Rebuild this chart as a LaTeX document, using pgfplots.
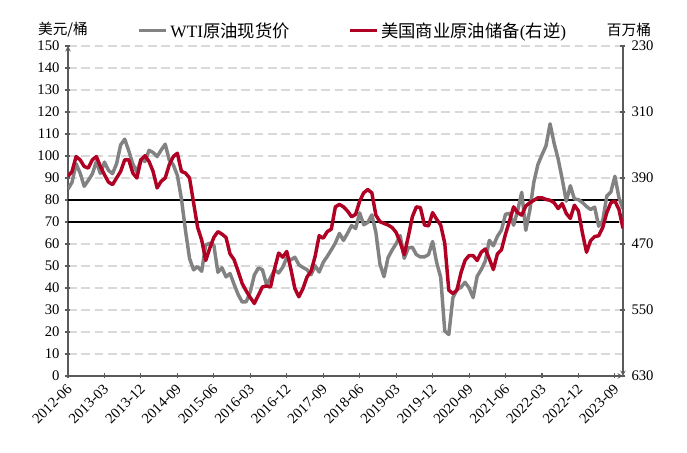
\documentclass[border=0pt]{standalone}
\usepackage{pgfplots}
\pgfplotsset{compat=1.18}
\usepackage{pgfplotstable}
\usepackage{fontspec}
\setmainfont{Liberation Serif}
\newfontfamily\cjk{Noto Sans CJK SC}
\definecolor{wtigray}{RGB}{130,130,130}
\definecolor{invred}{RGB}{176,0,36}
\definecolor{gridgray}{RGB}{217,217,217}
\definecolor{axgray}{RGB}{90,90,90}

\pgfplotstableread{
m v
0 84.96
1 88.06
2 96.47
3 92.19
4 86.24
5 88.91
6 91.82
7 97.49
8 92.05
9 97.23
10 93.46
11 91.97
12 96.56
13 105.03
14 107.65
15 102.33
16 96.38
17 92.72
18 98.42
19 97.49
20 102.59
21 101.58
22 99.74
23 102.71
24 105.37
25 98.17
26 95.96
27 91.16
28 80.54
29 66.15
30 53.45
31 48.24
32 49.76
33 47.60
34 59.63
35 60.30
36 59.47
37 47.12
38 49.20
39 45.06
40 46.59
41 41.65
42 37.04
43 33.62
44 33.75
45 38.34
46 45.92
47 49.10
48 48.27
49 41.54
50 44.68
51 48.24
52 46.83
53 49.41
54 53.75
55 52.75
56 54.00
57 50.54
58 49.33
59 48.32
60 46.02
61 50.17
62 47.26
63 51.64
64 54.38
65 57.36
66 60.46
67 64.82
68 61.64
69 64.87
70 68.38
71 67.04
72 74.13
73 68.76
74 69.80
75 73.25
76 65.31
77 50.93
78 45.15
79 53.79
80 57.22
81 60.14
82 63.86
83 53.49
84 58.20
85 58.53
86 55.16
87 54.09
88 54.16
89 55.17
90 61.14
91 51.58
92 44.83
93 20.51
94 18.84
95 35.49
96 39.27
97 40.29
98 42.61
99 40.05
100 35.64
101 45.34
102 48.35
103 52.16
104 61.66
105 59.19
106 63.50
107 66.31
108 73.52
109 73.95
110 68.54
111 75.22
112 83.50
113 66.21
114 75.33
115 88.20
116 96.13
117 100.53
118 104.65
119 114.62
120 105.76
121 98.60
122 89.47
123 79.45
124 86.51
125 80.48
126 80.16
127 78.85
128 77.05
129 75.68
130 76.78
131 68.09
132 70.64
133 81.80
134 83.63
135 90.79
136 81.02
137 75.96
}\wti

\pgfplotstableread{
m v
0 388
1 382
2 364
3 368
4 376
5 378
6 368
7 364
8 376
9 386
10 395
11 398
12 390
13 382
14 368
15 368
16 384
17 390
18 368
19 363
20 370
21 382
22 402
23 394
24 390
25 374
26 364
27 360
28 382
29 384
30 390
31 420
32 450
33 465
34 490
35 475
36 462
37 455
38 458
39 462
40 482
41 489
42 503
43 518
44 527
45 535
46 542
47 532
48 522
49 521
50 522
51 500
52 481
53 486
54 479
55 500
56 524
57 534
58 524
59 510
60 503
61 485
62 460
63 463
64 455
65 452
66 425
67 422
68 425
69 430
70 437
71 434
72 418
73 408
74 404
75 408
76 435
77 443
78 445
79 447
80 450
81 456
82 468
83 483
84 461
85 437
86 425
87 426
88 447
89 448
90 432
91 440
92 447
93 469
94 526
95 530
96 526
97 505
98 490
99 484
100 484
101 490
102 480
103 476
104 488
105 501
106 482
107 477
108 458
109 442
110 425
111 432
112 435
113 424
114 420
115 417
116 414
117 414
118 416
119 417
120 420
121 427
122 421
123 433
124 439
125 423
126 430
127 457
128 480
129 466
130 461
131 460
132 450
133 432
134 420
135 418
136 428
137 451
}\inv

\begin{document}
\begin{tikzpicture}
\pgfplotsset{
  common/.style={
    width=416.25pt, height=247.5pt, scale only axis,
    xmin=0, xmax=137,
    axis line style={axgray, line width=0.8pt, -},
    tick style={axgray, line width=0.8pt},
    major tick length=3.75pt,
    tick align=outside,
    ticklabel style={font=\fontsize{11}{13}\selectfont},
    /pgf/number format/assume math mode=true,
  }
}
\begin{axis}[common, name=main,
  ymin=0, ymax=150, ytick={0,10,...,150},
  axis x line=bottom, axis y line=left,
  xtick={0,9,...,135},
  xticklabels={2012-06,2013-03,2013-12,2014-09,2015-06,2016-03,2016-12,2017-09,2018-06,2019-03,2019-12,2020-09,2021-06,2022-03,2022-12,2023-09},
  xticklabel style={rotate=45, anchor=east, yshift=-5pt, xshift=0pt},
  ymajorgrids, major grid style={gridgray, line width=1pt, dash pattern=on 6.5pt off 3.5pt},
  yticklabel style={xshift=-1pt},
]
\addplot[black, line width=1.2pt] coordinates {(0,80) (136,80)};
\addplot[black, line width=1.2pt] coordinates {(0,70) (136,70)};
\addplot[wtigray, line width=2.6pt, line join=round] table[x=m, y=v]{\wti};
\end{axis}
\begin{axis}[common,
  ymin=230, ymax=630, y dir=reverse, ytick={230,310,...,630},
  axis y line=right, axis x line=none,
  yticklabel style={xshift=1pt},
  legend columns=2,
  legend style={draw=none, fill=none, at={(0.125,1)}, anchor=south west, yshift=3pt,
    font=\fontsize{13}{15}\selectfont, inner sep=0pt,
    /tikz/every even column/.append style={column sep=42pt}},
  legend image code/.code={\draw[#1] (0pt,0pt) -- (20pt,0pt);},
]
\addlegendimage{wtigray, line width=2.6pt}
\addplot[invred, line width=2.6pt, line join=round] table[x=m, y=v]{\inv};
\legend{WTI{\cjk 原油现货价}, {\cjk 美国商业原油储备}({\cjk 右逆})}
\end{axis}
\node[font=\fontsize{11}{13}\selectfont] at ([xshift=-3.75pt, yshift=12pt]main.north west) {\cjk 美元/桶};
\node[font=\fontsize{11}{13}\selectfont] at ([xshift=4.5pt, yshift=12pt]main.north east) {\cjk 百万桶};
\path (main.south west) ++(-51pt,-57.75pt) rectangle ++(515.25pt,339.75pt);
\end{tikzpicture}
\end{document}
